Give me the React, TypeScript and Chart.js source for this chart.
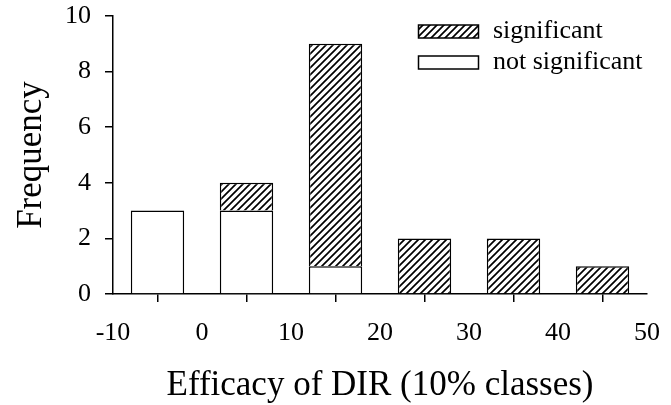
import React, { useEffect, useRef } from "react";
import { Chart, registerables } from "chart.js";

Chart.register(...registerables);

const classCenters = [-5, 5, 15, 25, 35, 45];
const notSignificant = [3, 3, 1, 0, 0, 0];
const significant = [0, 1, 8, 2, 2, 1];
const seriesLabels = ["significant", "not significant"];
const xTicks = [-10, 0, 10, 20, 30, 40, 50];
const yTicks = [0, 2, 4, 6, 8, 10];
const xTitle = "Efficacy of DIR (10% classes)";
const yTitle = "Frequency";

const FONT = "'Liberation Serif', 'Times New Roman', serif";

function makeHatch(): CanvasPattern | string {
  const c = document.createElement("canvas");
  const s = 7;
  c.width = s;
  c.height = s;
  const ctx = c.getContext("2d");
  if (!ctx) return "#fff";
  ctx.fillStyle = "#fff";
  ctx.fillRect(0, 0, s, s);
  ctx.strokeStyle = "#000";
  ctx.lineWidth = 1.7;
  ctx.beginPath();
  ctx.moveTo(-1, s + 1);
  ctx.lineTo(s + 1, -1);
  ctx.moveTo(-1, 1);
  ctx.lineTo(1, -1);
  ctx.moveTo(s - 1, s + 1);
  ctx.lineTo(s + 1, s - 1);
  ctx.stroke();
  return ctx.createPattern(c, "repeat") || "#fff";
}

export default function App() {
  const ref = useRef<HTMLCanvasElement | null>(null);

  useEffect(() => {
    document.body.style.margin = "0";
    const canvas = ref.current;
    if (!canvas) return;
    const hatch = makeHatch();

    const legendPlugin = {
      id: "customLegend",
      afterDraw(chart: any) {
        const ctx = chart.ctx;
        ctx.save();
        const items = [
          { label: seriesLabels[0], fill: hatch, base: 38 },
          { label: seriesLabels[1], fill: "#fff", base: 69 },
        ];
        items.forEach((it) => {
          const h = 13;
          ctx.fillStyle = it.fill;
          ctx.fillRect(418.5, it.base - h, 60, h);
          ctx.strokeStyle = "#000";
          ctx.lineWidth = 1.5;
          ctx.strokeRect(418.5, it.base - h, 60, h);
          ctx.fillStyle = "#000";
          ctx.font = `26px ${FONT}`;
          ctx.textBaseline = "alphabetic";
          ctx.textAlign = "left";
          ctx.fillText(it.label, 493, it.base);
        });
        ctx.restore();
      },
    };

    const chart = new Chart(canvas, {
      type: "bar",
      data: {
        datasets: [
          {
            label: seriesLabels[1],
            data: classCenters
              .map((x, i) => ({ x, y: notSignificant[i] }))
              .filter((p) => p.y > 0) as any,
            backgroundColor: "#fff",
            borderColor: "#000",
            borderWidth: 1.5,
            barPercentage: 0.6,
            categoryPercentage: 1.0,
          },
          {
            label: seriesLabels[0],
            data: classCenters
              .map((x, i) => ({ x, y: significant[i] }))
              .filter((p) => p.y > 0) as any,
            backgroundColor: hatch as any,
            borderColor: "#000",
            borderWidth: 1.5,
            barPercentage: 0.6,
            categoryPercentage: 1.0,
          },
        ],
      },
      options: {
        responsive: false,
        animation: false,
        layout: { padding: { top: 16, right: 24, bottom: 0, left: 0 } },
        plugins: {
          legend: { display: false },
          tooltip: { enabled: false },
        },
        scales: {
          x: {
            type: "linear",
            stacked: true,
            offset: false,
            min: -10,
            max: 50,
            afterBuildTicks: (s: any) => {
              s.ticks = xTicks.map((v) => ({ value: v }));
            },
            afterFit: (s: any) => {
              s.height = 111;
              s.paddingLeft = 0;
              s.paddingRight = 0;
            },
            ticks: {
              color: "#000",
              font: { family: FONT, size: 26 },
              padding: 16,
              maxRotation: 0,
              autoSkip: false,
            },
            grid: {
              drawOnChartArea: false,
              drawTicks: true,
              tickLength: 8,
              color: "#000",
              lineWidth: 1.5,
            },
            border: { display: true, color: "#000", width: 1.5 },
            title: {
              display: true,
              text: xTitle,
              color: "#000",
              font: { family: FONT, size: 35, lineHeight: 1 },
              padding: { top: 0, bottom: 2 },
            },
          },
          y: {
            type: "linear",
            stacked: true,
            min: 0,
            max: 10,
            afterBuildTicks: (s: any) => {
              s.ticks = yTicks.map((v) => ({ value: v }));
            },
            afterFit: (s: any) => {
              s.width = 113;
              s.paddingTop = 0;
              s.paddingBottom = 0;
            },
            ticks: {
              color: "#000",
              font: { family: FONT, size: 26 },
              padding: 14,
            },
            grid: {
              drawOnChartArea: false,
              drawTicks: true,
              tickLength: 8,
              color: "#000",
              lineWidth: 1.5,
            },
            border: { display: true, color: "#000", width: 1.5 },
            title: {
              display: true,
              text: yTitle,
              color: "#000",
              font: { family: FONT, size: 35, lineHeight: 1 },
              padding: { top: 14, bottom: 0 },
            },
          },
        },
      },
      plugins: [legendPlugin],
    });

    return () => chart.destroy();
  }, []);

  return (
    <div style={{ width: 671, height: 405 }}>
      <canvas ref={ref} width={671} height={405} style={{ display: "block" }} />
    </div>
  );
}
